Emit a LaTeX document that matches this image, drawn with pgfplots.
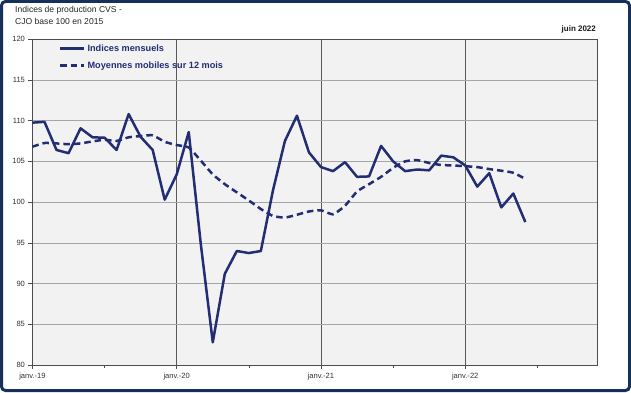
\documentclass[border=0pt]{standalone}
\usepackage{pgfplots}
\pgfplotsset{compat=1.18}
\usepackage{fontspec}
\setmainfont{Liberation Sans}
\definecolor{navy}{RGB}{35,45,115}
\definecolor{framec}{RGB}{22,48,92}
\definecolor{plotbg}{RGB}{242,242,242}
\begin{document}
\begin{tikzpicture}[x=1bp,y=1bp]
\useasboundingbox (0,0) rectangle (631,392);
\fill[white] (0,0) rectangle (631,392);
\draw[framec, line width=3bp, rounded corners=4bp] (1.5,1.5) rectangle (629.5,390.5);
\node[anchor=base west, inner sep=0, font=\fontsize{8.6}{9}\selectfont, text=black!85] at (15,380) {Indices de production CVS -};
\node[anchor=base west, inner sep=0, font=\fontsize{8.6}{9}\selectfont, text=black!85] at (15,368) {CJO base 100 en 2015};
\node[anchor=base east, inner sep=0, font=\bfseries\fontsize{8}{9}\selectfont, text=black!90] at (596,361) {juin 2022};
\begin{axis}[
  at={(27,33)}, anchor=south west,
  width=565bp, height=326bp, scale only axis,
  xmin=0, xmax=47, ymin=80, ymax=120,
  axis background/.style={fill=plotbg},
  xtick={0,12,24,36}, xticklabels={janv.-19,janv.-20,janv.-21,janv.-22},
  minor xtick={6,18,30,42},
  ytick={80,85,...,120},
  tick align=outside, tick pos=left,
  major tick length=4bp, minor tick length=3bp,
  every tick/.style={black!70, line width=0.6bp},
  xmajorgrids, ymajorgrids,
  major x grid style={black!65, line width=0.7bp},
  major y grid style={black!35, line width=0.7bp},
  axis line style={black!70, line width=0.8bp},
  tick label style={font=\fontsize{7.6}{8}\selectfont, text=black!80},
  /pgf/number format/assume math mode=true,
  yticklabel style={xshift=0bp},
  xticklabel style={yshift=-0.5bp},
  legend style={draw=none, fill=none, at={(axis cs:2.2,119.6)}, anchor=north west,
    font=\bfseries\fontsize{9.2}{10}\selectfont, text=navy, row sep=5bp,
    inner xsep=0pt, inner ysep=0pt,
    /tikz/every even column/.append style={column sep=1bp}},
  legend cell align=left,
  legend image code/.code={\draw[#1, line width=2.5bp] (0bp,0bp) -- (24bp,0bp);},
]
\addplot[navy, line width=2.5bp, line join=round] coordinates {
(0,109.75) (1,109.85) (2,106.4) (3,106.0) (4,109.05) (5,107.95) (6,107.9) (7,106.4)
(8,110.8) (9,108.0) (10,106.4) (11,100.3) (12,103.4) (13,108.6) (14,94.9) (15,82.8)
(16,91.2) (17,94.0) (18,93.75) (19,94.0) (20,101.4) (21,107.5) (22,110.6) (23,106.1)
(24,104.3) (25,103.8) (26,104.9) (27,103.1) (28,103.15) (29,106.9) (30,105.0) (31,103.8)
(32,104.0) (33,103.9) (34,105.7) (35,105.5) (36,104.5) (37,101.9) (38,103.55) (39,99.35)
(40,101.05) (41,97.55)
};
\addlegendentry{Indices mensuels}
\addplot[navy, line width=2.5bp, dash pattern=on 6.5bp off 4bp, smooth, tension=0.3] coordinates {
(0,106.8) (1,107.25) (2,107.2) (3,107.1) (4,107.2) (5,107.45) (6,107.65) (7,107.5)
(8,107.95) (9,108.1) (10,108.2) (11,107.4) (12,107.0) (13,106.7) (14,105.1) (15,103.4)
(16,102.2) (17,101.2) (18,100.2) (19,99.15) (20,98.3) (21,98.1) (22,98.45) (23,98.85)
(24,99.0) (25,98.5) (26,99.55) (27,101.3) (28,102.2) (29,103.1) (30,104.2) (31,105.0)
(32,105.15) (33,104.8) (34,104.55) (35,104.5) (36,104.4) (37,104.3) (38,104.05) (39,103.85)
(40,103.6) (41,102.85)
};
\addlegendentry{Moyennes mobiles sur 12 mois}
\end{axis}
\end{tikzpicture}
\end{document}
